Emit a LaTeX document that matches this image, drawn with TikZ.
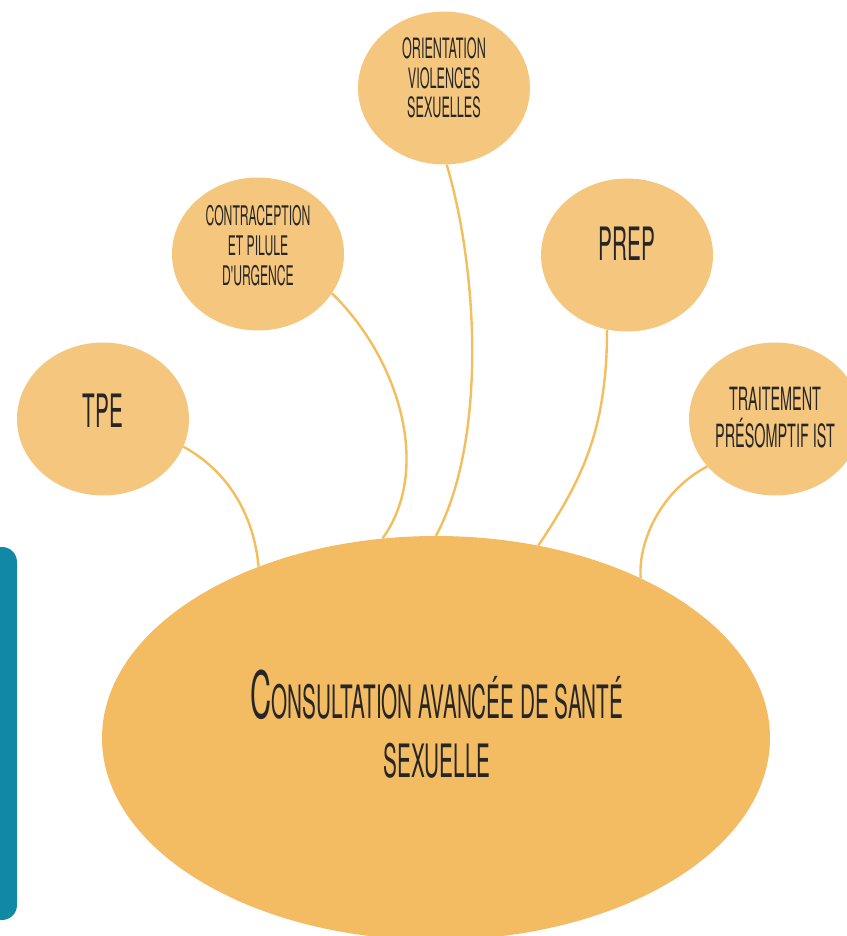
\documentclass[tikz,border=0pt]{standalone}
\usepackage{fontspec}
\usepackage{tikz}
\usetikzlibrary{shapes.geometric}
\newfontfamily\handfont[FakeStretch=0.45]{TeX Gyre Heros}
\definecolor{bubblefill}{HTML}{F5C77E}
\definecolor{mainfill}{HTML}{F3BB62}
\definecolor{linkcol}{HTML}{F2BE5E}
\definecolor{barcol}{HTML}{1188A6}
\definecolor{inkcol}{HTML}{262626}

\begin{document}
\begin{tikzpicture}[x=1pt,y=-1pt,
		bubble/.style={ellipse,fill=bubblefill,inner sep=0pt,minimum width=172pt,minimum height=153pt},
		bubbletext/.style={text=inkcol,font=\handfont,align=center,inner sep=0pt},
		link/.style={draw=linkcol,line width=2.4pt}]
		\useasboundingbox (0,0) rectangle (846,936);
		% side bar
		\fill[barcol] (0,547) [rounded corners=15pt] -- (17,547) -- (17,920) [sharp corners] -- (0,920) -- cycle;
		
		% Bubbles
		\node[bubble,label={[bubbletext,font=\handfont\fontsize{46}{50}\selectfont,yshift=8pt]center:TPE}] (TPE) at (103,419) {};
		\node[bubble,label={[bubbletext,font=\handfont\fontsize{27}{30}\selectfont,yshift=8pt]center:CONTRACEPTION\\ET PILULE\\D'URGENCE}] (Contraception) at (258,254) {};
		\node[bubble,label={[bubbletext,font=\handfont\fontsize{28}{29.5}\selectfont,yshift=10pt]center:ORIENTATION\\VIOLENCES\\SEXUELLES}] (Orientation) at (444,88) {};
		\node[bubble,label={[bubbletext,font=\handfont\fontsize{46}{50}\selectfont,yshift=11pt]center:PREP}] (PrEP) at (627,255) {};
		\node[bubble,label={[bubbletext,font=\handfont\fontsize{32}{37}\selectfont,yshift=1pt]center:TRAITEMENT\\PRÉSOMPTIF IST}] (Traitement) at (775,419) {};
		
		% Links (under the main ellipse)
		\node[ellipse,inner sep=0pt,minimum width=668pt,minimum height=404pt] (Consultation) at (436,738) {};
		\draw[link] (TPE.-19) .. controls (235,475) and (255,525) .. (Consultation.136.8);
		\draw[link] (Contraception.-28) .. controls (400,360) and (432,470) .. (Consultation.105);
		\draw[link] (Orientation.-88) .. controls (478,270) and (487,440) .. (Consultation.90);
		\draw[link] (PrEP.-105) .. controls (607,430) and (582,480) .. (Consultation.62.6);
		\draw[link] (Traitement.-145) .. controls (662,490) and (638,540) .. (Consultation.38.4);
		
		% Main ellipse
		\fill[mainfill] (Consultation.center) ellipse[x radius=334,y radius=202];
		\node[bubbletext,font=\handfont\fontsize{46}{59}\selectfont] at (437,724) {{\fontsize{65}{59}\selectfont C}ONSULTATION AVANCÉE DE SANTÉ\\SEXUELLE};
		
		\end{tikzpicture}
\end{document}
